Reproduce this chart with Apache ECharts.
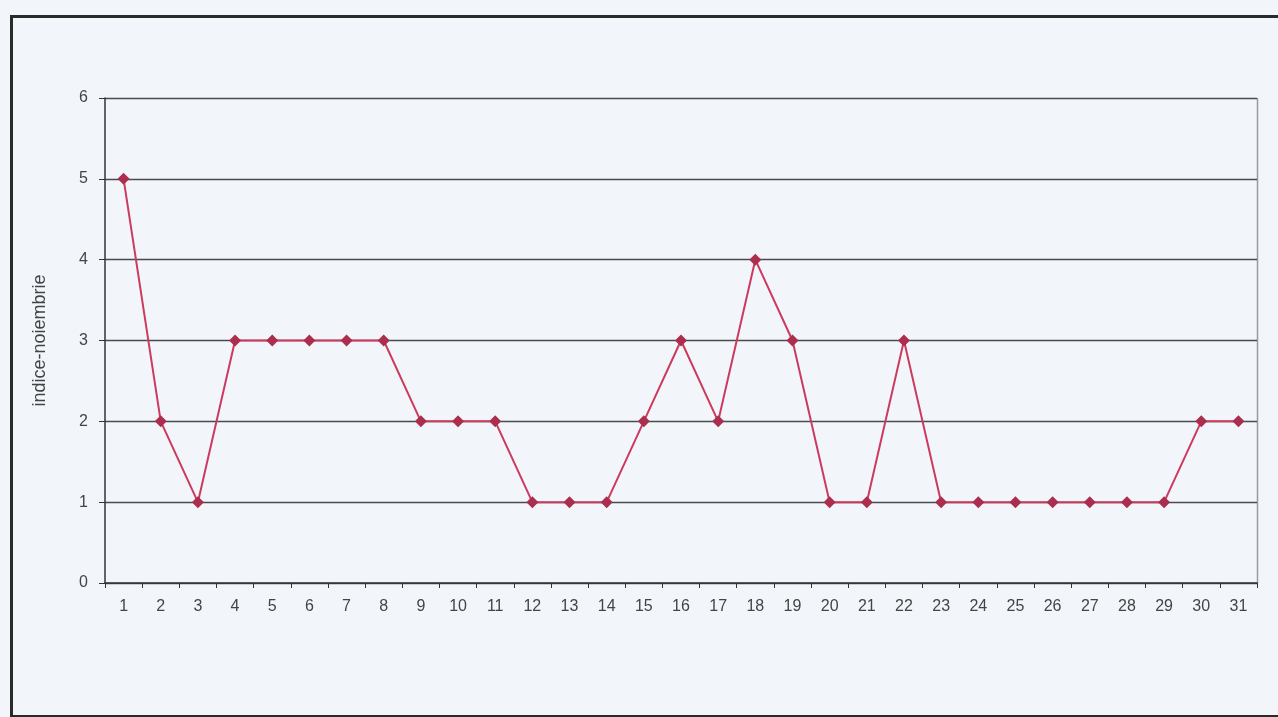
<!DOCTYPE html>
<html><head><meta charset="utf-8">
<script src="https://cdn.jsdelivr.net/npm/echarts@6/dist/echarts.min.js"></script>
<style>html,body{margin:0;padding:0;background:#f2f6fb;}#c{width:1278px;height:717px;}</style>
</head><body><div id="c"></div>
<script>
const categories = ['1','2','3','4','5','6','7','8','9','10','11','12','13','14','15','16','17','18','19','20','21','22','23','24','25','26','27','28','29','30','31'];
const values = [5,2,1,3,3,3,3,3,2,2,2,1,1,1,2,3,2,4,3,1,1,3,1,1,1,1,1,1,1,2,2];
const yTicks = [0,1,2,3,4,5,6];
const yName = 'indice-noiembrie';

const chart = echarts.init(document.getElementById('c'), null, {renderer:'canvas'});
chart.setOption({
  backgroundColor: '#f2f6fb',
  animation: false,
  graphic: [{
    type: 'rect', left: 9, top: 14, z: -1,
    shape: {width: 1290, height: 700},
    style: {fill: 'none', stroke: '#2a2a2a', lineWidth: 3}
  }, {
    type: 'line', z: -1,
    shape: {x1: 1257.5, y1: 98, x2: 1257.5, y2: 583},
    style: {stroke: '#9a9a9a', lineWidth: 1.5}
  }],
  grid: {left: 105, right: 21, top: 98, bottom: 134, containLabel: false},
  xAxis: {
    type: 'category', data: categories, boundaryGap: true,
    axisLine: {lineStyle: {color: '#333', width: 1.5}},
    axisTick: {show: true, alignWithLabel: false, length: 5, lineStyle: {color: '#333'}},
    axisLabel: {color: '#444', fontSize: 16, fontFamily: 'Liberation Sans, Arial, sans-serif', margin: 16},
    splitLine: {show: false}
  },
  yAxis: {
    type: 'value', min: 0, max: 6, interval: 1,
    name: yName, nameLocation: 'middle', nameGap: 56, nameRotate: 90,
    nameTextStyle: {color: '#444', fontSize: 18, fontFamily: 'Liberation Sans, Arial, sans-serif'},
    axisLine: {show: true, lineStyle: {color: '#333', width: 1.5}},
    axisTick: {show: true, length: 6, lineStyle: {color: '#333'}},
    axisLabel: {color: '#444', fontSize: 16, fontFamily: 'Liberation Sans, Arial, sans-serif', margin: 17,
      formatter: v => yTicks.includes(v) ? String(v) : ''},
    splitLine: {show: true, lineStyle: {color: '#4a4a4a', width: 1.4}}
  },
  series: [{
    type: 'line', data: values,
    symbol: 'diamond', symbolSize: 12,
    lineStyle: {color: '#cc3b5e', width: 2},
    itemStyle: {color: '#ab2e4e'}
  }]
});
</script></body></html>
